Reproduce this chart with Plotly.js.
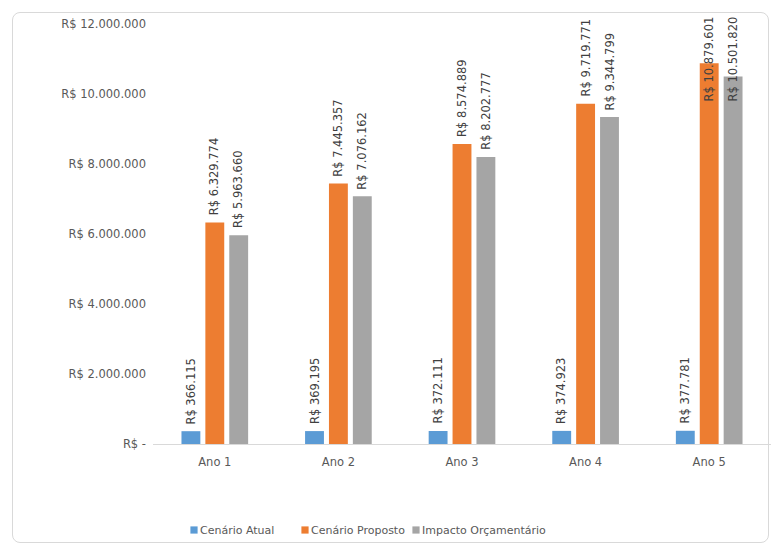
<!DOCTYPE html>
<html>
<head>
<meta charset="utf-8">
<script src="https://cdn.plot.ly/plotly-3.0.1.min.js"></script>
<style>
  html, body { margin: 0; padding: 0; background: #ffffff; }
  #wrap { position: relative; width: 776px; height: 549px; }
  #frame {
    position: absolute; left: 12px; top: 12px; width: 757px; height: 531px;
    border: 1px solid #d9d9d9; border-radius: 8px; box-sizing: border-box;
  }
  #chart { position: absolute; left: 0; top: 0; width: 776px; height: 549px; }
  /* small square swatches set close to their legend text */
  #chart .legend .legendpoints path { transform: translate(34px, 0px) scale(0.6); }
  /* let the last legend entry run past the fixed entry width */
  #chart .legend .scrollbox { clip-path: none; }
</style>
</head>
<body>
<div id="wrap">
  <div id="frame"></div>
  <div id="chart"></div>
</div>
<script>
// Five-year budget projection (values in R$)
const categories = ['Ano 1', 'Ano 2', 'Ano 3', 'Ano 4', 'Ano 5'];
const cenarioAtual = [366115, 369195, 372111, 374923, 377781];
const cenarioProposto = [6329774, 7445357, 8574889, 9719771, 10879601];
const impactoOrcamentario = [5963660, 7076162, 8202777, 9344799, 10501820];

const seriesNames = ['Cenário Atual', 'Cenário Proposto', 'Impacto Orçamentário'];
const seriesColors = ['#5B9BD5', '#ED7D31', '#A5A5A5'];

const yTickVals = [0, 2000000, 4000000, 6000000, 8000000, 10000000, 12000000];
const yTickText = ['R$ -', 'R$ 2.000.000', 'R$ 4.000.000', 'R$ 6.000.000',
                   'R$ 8.000.000', 'R$ 10.000.000', 'R$ 12.000.000'];

function brl(n) {
  return 'R$ ' + String(n).replace(/\B(?=(\d{3})+(?!\d))/g, '.');
}

const seriesValues = [cenarioAtual, cenarioProposto, impactoOrcamentario];

const traces = seriesValues.map((vals, i) => ({
  type: 'bar',
  name: seriesNames[i],
  x: categories,
  y: vals,
  marker: { color: seriesColors[i] },
  hoverinfo: 'skip'
}));

// geometry of the plot area
const M = { l: 153, r: 5, t: 24, b: 105 };
const plotW = 776 - M.l - M.r;
const catW = plotW / categories.length;
const bargap = 0.42;
const groupW = catW * (1 - bargap);
const slot = groupW / seriesValues.length;

const FONT = 'DejaVu Sans';

// value labels, rotated, sitting on top of each bar
const annotations = [];
seriesValues.forEach((vals, s) => {
  vals.forEach((v, c) => {
    annotations.push({
      x: categories[c],
      y: v,
      xref: 'x', yref: 'y',
      xshift: (s - (seriesValues.length - 1) / 2) * slot,
      yshift: 5,
      text: brl(v),
      showarrow: false,
      textangle: -90,
      xanchor: 'center',
      yanchor: 'bottom',
      font: { family: FONT, size: 11.5, color: '#404040' }
    });
  });
});

const layout = {
  width: 776,
  height: 549,
  margin: M,
  paper_bgcolor: 'rgba(0,0,0,0)',
  plot_bgcolor: 'rgba(0,0,0,0)',
  barmode: 'group',
  bargap: bargap,
  bargroupgap: 0.21,
  showlegend: true,
  legend: {
    orientation: 'h',
    xref: 'container', yref: 'container',
    x: 160 / 776, y: (549 - 530) / 549,
    xanchor: 'left', yanchor: 'middle',
    font: { family: FONT, size: 11, color: '#595959' },
    itemwidth: 30,
    entrywidth: 66,
    tracegroupgap: 0
  },
  xaxis: {
    type: 'category',
    showline: true,
    linecolor: '#d9d9d9',
    linewidth: 1,
    showgrid: false,
    zeroline: false,
    ticks: '',
    ticklabelstandoff: 7,
    tickfont: { family: FONT, size: 11.5, color: '#595959' },
    fixedrange: true
  },
  yaxis: {
    range: [0, 12000000],
    tickvals: yTickVals,
    ticktext: yTickText,
    showgrid: false,
    zeroline: false,
    showline: false,
    ticks: '',
    ticklabelstandoff: 6,
    tickfont: { family: FONT, size: 11.5, color: '#595959' },
    fixedrange: true
  },
  annotations: annotations
};

Plotly.newPlot('chart', traces, layout, { displayModeBar: false, staticPlot: true }).then(gd => {
  // keep labels inside the chart frame: slide down any that would cross the top edge
  const topLimit = 15;
  const nodes = gd.querySelectorAll('.annotation');
  const updates = {};
  nodes.forEach((node, i) => {
    const r = node.getBoundingClientRect();
    if (r.top < topLimit) {
      updates['annotations[' + i + '].yshift'] = annotations[i].yshift - (topLimit - r.top);
    }
  });
  if (Object.keys(updates).length) Plotly.relayout(gd, updates);
});
</script>
</body>
</html>
